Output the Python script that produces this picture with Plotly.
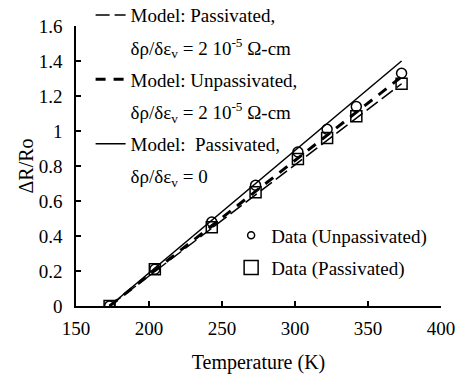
import plotly.graph_objects as go

# Data
temp_K = [173, 204, 243, 273, 302, 322, 342, 373]
data_unpassivated = [0.0, 0.21, 0.48, 0.69, 0.88, 1.01, 1.14, 1.33]
data_passivated = [0.0, 0.21, 0.45, 0.65, 0.84, 0.96, 1.085, 1.27]

model_T = [173, 373]
model_pass_2e5 = [0.0, 1.27]
model_unpass_2e5 = [0.0, 1.31]
model_pass_0 = [0.0, 1.40]

x_ticks = [150, 200, 250, 300, 350, 400]
y_ticks = [0, 0.2, 0.4, 0.6, 0.8, 1.0, 1.2, 1.4, 1.6]

FONT = "Liberation Serif"
SUB = "δρ/δε<sub>v</sub>"

fig = go.Figure()

def legend_only(name, legend, group, **kw):
    fig.add_trace(go.Scatter(x=[None], y=[None], name=name, legend=legend,
                             legendgroup=group, hoverinfo="skip", **kw))

# Model lines
fig.add_trace(go.Scatter(x=model_T, y=model_pass_2e5, mode="lines",
                         name="Model: Passivated,", legend="legend", legendgroup="a",
                         line=dict(color="black", width=1.5, dash="14px,5px")))
legend_only(SUB + " = 2 10<sup>-5</sup> Ω-cm", "legend", "b", mode="lines",
            line=dict(color="rgba(0,0,0,0)", width=1))
fig.add_trace(go.Scatter(x=model_T, y=model_unpass_2e5, mode="lines",
                         name="Model: Unpassivated,", legend="legend", legendgroup="c",
                         line=dict(color="black", width=3, dash="10px,8px")))
legend_only(SUB + " = 2 10<sup>-5</sup> Ω-cm", "legend", "d", mode="lines",
            line=dict(color="rgba(0,0,0,0)", width=1))
fig.add_trace(go.Scatter(x=model_T, y=model_pass_0, mode="lines",
                         name="Model:  Passivated,", legend="legend", legendgroup="e",
                         line=dict(color="black", width=1.5)))
legend_only(SUB + " = 0", "legend", "f", mode="lines",
            line=dict(color="rgba(0,0,0,0)", width=1))

# Data markers
fig.add_trace(go.Scatter(x=temp_K, y=data_unpassivated, mode="markers",
                         name="Data (Unpassivated)", showlegend=False,
                         marker=dict(symbol="circle-open", size=10, color="black",
                                     line=dict(width=1.5, color="black"))))
fig.add_trace(go.Scatter(x=temp_K, y=data_passivated, mode="markers",
                         name="Data (Passivated)", showlegend=False,
                         marker=dict(symbol="square-open", size=11, color="black",
                                     line=dict(width=1.5, color="black"))))
legend_only("Data (Unpassivated)", "legend2", "g", mode="markers",
            marker=dict(symbol="circle-open", size=7, color="black",
                        line=dict(width=1.5, color="black")))
legend_only("Data (Passivated)", "legend2", "h", mode="markers",
            marker=dict(symbol="square-open", size=14, color="black",
                        line=dict(width=1.5, color="black")))

axis_common = dict(
    showgrid=False, zeroline=False, showline=True, linecolor="black", linewidth=1.5,
    ticks="inside", ticklen=5, tickwidth=1.5, tickcolor="black", mirror=False,
)

fig.update_layout(
    width=461, height=379,
    margin=dict(l=76, r=20, t=26, b=73, autoexpand=False),
    paper_bgcolor="white", plot_bgcolor="white",
    font=dict(color="black"),
    showlegend=True,
    xaxis=dict(range=[150, 400], tickvals=x_ticks, ticklabelstandoff=4,
               tickfont=dict(family=FONT, size=19),
               title=dict(text="Temperature (K)", font=dict(family=FONT, size=20), standoff=17),
               **axis_common),
    yaxis=dict(range=[0, 1.6], tickvals=y_ticks, ticklabelstandoff=8,
               tickfont=dict(family=FONT, size=19),
               title=dict(text="ΔR/Ro", font=dict(family=FONT, size=20), standoff=0),
               **axis_common),
    legend=dict(x=0.04, y=1.107, xanchor="left", yanchor="top", maxheight=400,
                bgcolor="rgba(0,0,0,0)", borderwidth=0,
                font=dict(family=FONT, size=19),
                traceorder="grouped", tracegroupgap=4.5, itemwidth=30),
    legend2=dict(x=0.425, y=0.32, xanchor="left", yanchor="top", maxheight=400,
                 bgcolor="rgba(0,0,0,0)", borderwidth=0,
                 font=dict(family=FONT, size=19),
                 traceorder="grouped", tracegroupgap=4.5, itemwidth=30),
)

fig.write_html("out.html")
